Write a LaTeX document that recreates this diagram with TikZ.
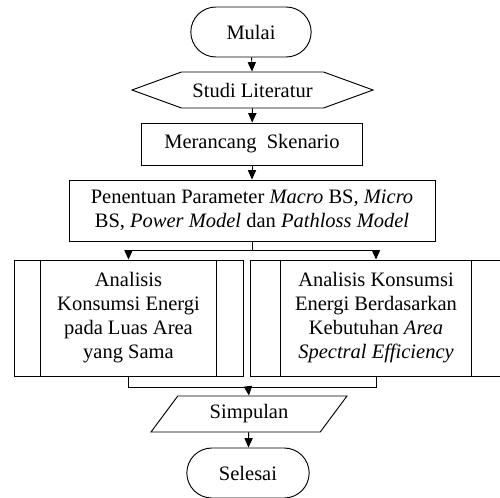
\documentclass[tikz,border=0pt]{standalone}
\usepackage{fontspec}
\setmainfont{Liberation Serif}
\usepackage{tikz}
\usetikzlibrary{shapes.misc,shapes.geometric,shapes.symbols,arrows.meta,positioning,calc}

\begin{document}
\begin{tikzpicture}[
    x=0.03cm, y=-0.03cm,
    font=\fontsize{17.5}{20.5}\selectfont,
    every node/.style={draw=black, line width=0.8pt, align=center, inner sep=2pt},
    term/.style={rounded rectangle, minimum width=3.75cm, minimum height=1.5cm},
    hexa/.style={signal, signal to=west and east, signal pointer angle=40, minimum width=7.23cm, minimum height=1.08cm},
    proc/.style={rectangle, minimum height=1.26cm},
    predef/.style={rectangle, minimum height=3.48cm},
    io/.style={trapezium, trapezium left angle=41, trapezium right angle=139, trapezium stretches body=true, minimum width=5.88cm, minimum height=1.08cm},
    arr/.style={-{Triangle[length=8pt,width=7pt]}, line width=0.8pt},
    ln/.style={line width=0.8pt}
]
    \useasboundingbox (0,0) rectangle (500,497);

    \node [term] (mulai) at (251,32) {Mulai};
    \node [hexa] (studi) at (252.5,90) {Studi Literatur};
    \node [proc, minimum width=6.63cm] (rancang) at (252,144) {Merancang\ \ Skenario};
    \node [proc, minimum width=10.98cm, minimum height=1.83cm] (param) at (252,210.5)
        {Penentuan Parameter \textit{Macro} BS, \textit{Micro}\\BS, \textit{Power Model} dan \textit{Pathloss Model}};

    % dua analisis (predefined process)
    \node [predef, minimum width=6.87cm] (analisisA) at (128.5,318)
        {Analisis\\Konsumsi Energi\\pada Luas Area\\yang Sama};
    \node [predef, minimum width=7.56cm] (analisisB) at (376,318)
        {Analisis Konsumsi\\Energi Berdasarkan\\Kebutuhan \textit{Area}\\\textit{Spectral Efficiency}};
    \draw [ln] ([xshift=0.81cm]analisisA.north west) -- ([xshift=0.81cm]analisisA.south west);
    \draw [ln] ([xshift=-0.81cm]analisisA.north east) -- ([xshift=-0.81cm]analisisA.south east);
    \draw [ln] ([xshift=0.93cm]analisisB.north west) -- ([xshift=0.93cm]analisisB.south west);
    \draw [ln] ([xshift=-0.93cm]analisisB.north east) -- ([xshift=-0.93cm]analisisB.south east);

    \node [io] (simpulan) at (249,414) {Simpulan};
    \node [term, minimum width=3.81cm] (selesai) at (248,473) {Selesai};

    \coordinate (cabang) at (252,250);
    \coordinate (gabung) at (248,387);

    \draw [arr] (mulai) -- (studi);
    \draw [arr] (studi) -- (rancang);
    \draw [arr] (rancang) -- (param);
    \draw [ln] (param) -- (cabang);
    \draw [arr] (cabang) -| (analisisA.north);
    \draw [arr] (cabang) -| (analisisB.north);
    \draw [ln] (analisisA.south) |- (gabung);
    \draw [ln] (analisisB.south) |- (gabung);
    \draw [arr] (gabung) -- (simpulan.north);
    \draw [arr] (simpulan) -- (selesai);
\end{tikzpicture}
\end{document}
